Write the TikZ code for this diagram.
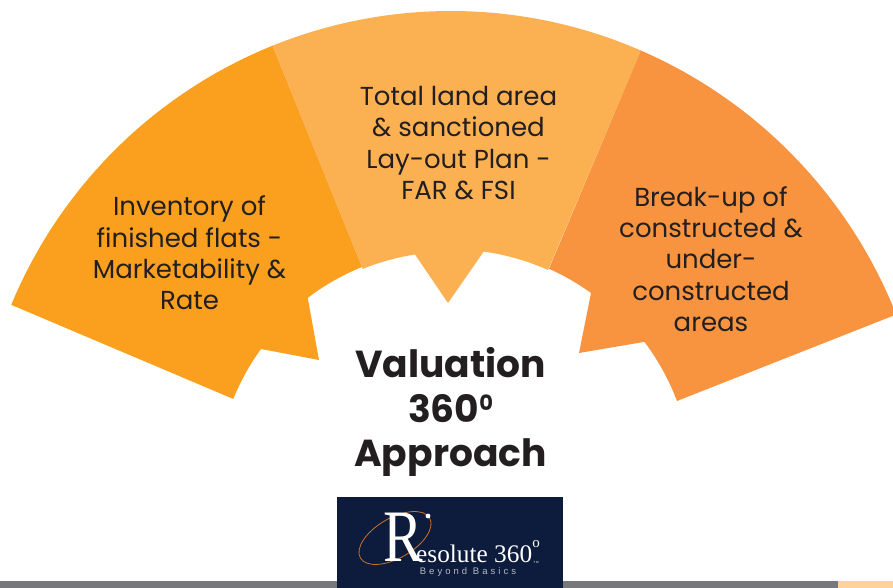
\documentclass[tikz,border=0pt]{standalone}
\usepackage{fontspec}
\setmainfont{Poppins}
\newfontfamily\logofont{Liberation Serif}
\newfontfamily\logosans[LetterSpace=32]{Liberation Sans}
\usetikzlibrary{calc}
\definecolor{segL}{HTML}{FAA01E}
\definecolor{segC}{HTML}{FBB051}
\definecolor{segR}{HTML}{F8943F}
\definecolor{ink}{HTML}{231F20}
\definecolor{navy}{HTML}{0D1B3C}
\definecolor{barG}{HTML}{77787B}
\definecolor{barO}{HTML}{FDD29B}
\definecolor{logoOr}{HTML}{C9742A}
\tikzset{
 seglabel/.style={font=\fontsize{26}{31.4}\selectfont,text=ink,align=center,inner sep=0pt},
 titlelabel/.style={font=\fontsize{37.6}{44.2}\selectfont\bfseries,text=ink,align=center,inner sep=0pt},
}
\begin{document}
\begin{tikzpicture}[x=1pt,y=1pt]
\useasboundingbox (0,0) rectangle (893,588);
\fill[white] (0,0) rectangle (893,588);
\clip (0,0) rectangle (893,588);
\coordinate (c) at (451,101);
% bars
\fill[barG] (0,0) rectangle (838,7);
\fill[barO] (838,0) rectangle (893,7);
% left
\fill[segL] ($(c)+(157.5:476)$) arc[start angle=157.5,end angle=112,radius=476]
  -- (362,321) arc[start angle=112,end angle=127.2,radius=236]
  -- (319,228) -- (261,239)
  arc[start angle=144,end angle=157.9,radius=236] -- cycle;
% centre
\fill[segC] ($(c)+(112:476)$) arc[start angle=112,end angle=66.5,radius=476]
  -- (548,318) arc[start angle=65.9,end angle=82.2,radius=236] -- (448,285) -- (415,333.5)
  arc[start angle=98.8,end angle=112,radius=236] -- cycle;
% right
\fill[segR] ($(c)+(66.5:476)$) arc[start angle=66.5,end angle=21.6,radius=481]
  -- (677,187) arc[start angle=20.8,end angle=36.9,radius=241]
  -- (579,235) -- (591,295) arc[start angle=54.2,end angle=65.9,radius=238] -- cycle;
% labels
\node[seglabel] (left) at (189.5,335) {Inventory of\\finished flats -\\Marketability \&\\Rate};
\node[seglabel] (mid) at (458.5,445) {Total land area\\\& sanctioned\\Lay-out Plan -\\FAR \& FSI};
\node[seglabel] (right) at (711,329) {Break-up of\\constructed \&\\under-\\constructed\\areas};
\node[titlelabel] (title) at (450.5,176) {Valuation\\360\raisebox{12pt}{\fontsize{21}{21}\selectfont 0}\\Approach};
% logo
\fill[navy] (337,0) rectangle (563,91);
\draw[logoOr,line width=0.8pt,rotate around={30:(395,50)}] (395,50) ellipse[x radius=40,y radius=20];
\node[inner sep=0pt,text=white,font=\logofont\fontsize{74}{74}\selectfont,xscale=0.8,anchor=base] (logoR) at (403,26) {R};
\fill[white] (428,72) circle[radius=2.4];
\node[anchor=base west,inner sep=0pt,text=white,font=\logofont\fontsize{25.3}{25.3}\selectfont] (logoT) at (416,25) {esolute 360};
\node[inner sep=0pt,text=white,font=\logofont\fontsize{15}{15}\selectfont] (logoD) at (536,44) {o};
\node[inner sep=0pt,text=white,font=\logosans\fontsize{3}{3}\selectfont] (logoTM) at (536,26) {TM};
\node[inner sep=0pt,text=white!70!navy,font=\logosans\fontsize{9.5}{9.5}\selectfont] (logoB) at (468,16) {Beyond Basics};
\end{tikzpicture}
\end{document}
